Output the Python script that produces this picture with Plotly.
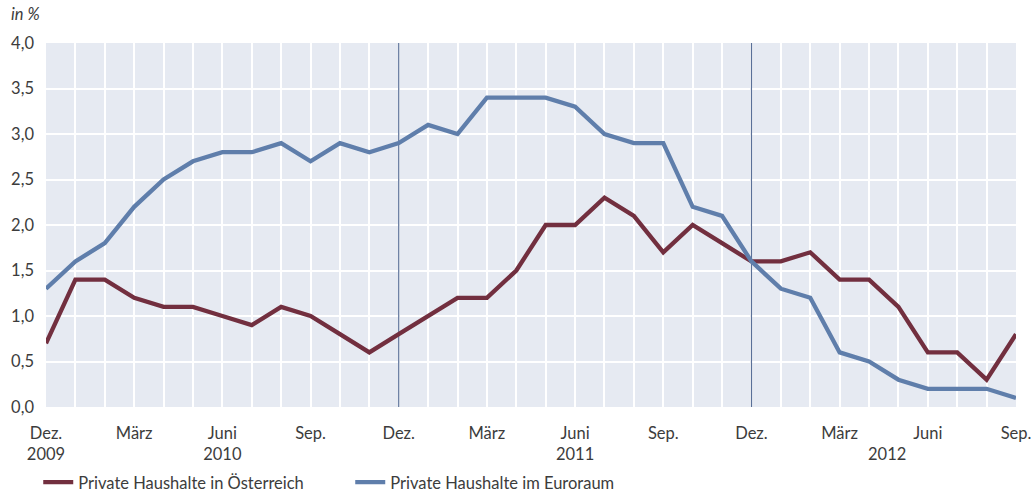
import plotly.graph_objects as go

months = ["Dez. 2009", "Jan. 2010", "Feb. 2010", "März 2010", "Apr. 2010", "Mai 2010", "Juni 2010",
          "Juli 2010", "Aug. 2010", "Sep. 2010", "Okt. 2010", "Nov. 2010", "Dez. 2010",
          "Jan. 2011", "Feb. 2011", "März 2011", "Apr. 2011", "Mai 2011", "Juni 2011",
          "Juli 2011", "Aug. 2011", "Sep. 2011", "Okt. 2011", "Nov. 2011", "Dez. 2011",
          "Jan. 2012", "Feb. 2012", "März 2012", "Apr. 2012", "Mai 2012", "Juni 2012",
          "Juli 2012", "Aug. 2012", "Sep. 2012"]

austria = [0.7, 1.4, 1.4, 1.2, 1.1, 1.1, 1.0, 0.9, 1.1, 1.0, 0.8, 0.6, 0.8,
           1.0, 1.2, 1.2, 1.5, 2.0, 2.0, 2.3, 2.1, 1.7, 2.0, 1.8, 1.6,
           1.6, 1.7, 1.4, 1.4, 1.1, 0.6, 0.6, 0.3, 0.8]

euro = [1.3, 1.6, 1.8, 2.2, 2.5, 2.7, 2.8, 2.8, 2.9, 2.7, 2.9, 2.8, 2.9,
        3.1, 3.0, 3.4, 3.4, 3.4, 3.3, 3.0, 2.9, 2.9, 2.2, 2.1, 1.6,
        1.3, 1.2, 0.6, 0.5, 0.3, 0.2, 0.2, 0.2, 0.1]

tick_idx = [0, 3, 6, 9, 12, 15, 18, 21, 24, 27, 30, 33]
tick_text = ["Dez.<br>2009", "März", "Juni<br>2010", "Sep.", "Dez.", "März", "Juni<br>2011",
             "Sep.", "Dez.", "März", "Juni", "Sep."]
year_2012_pos = 28.6
separator_idx = [12, 24]
y_range = [0, 4]

FONT = "Lato, 'Open Sans', sans-serif"
FS = 16.5
RED = "#722f3f"
BLUE = "#5f7eab"
TXT = "#3c3c3c"

x = list(range(len(months)))

sep_x, sep_y = [], []
for s in separator_idx:
    sep_x += [s, s, None]
    sep_y += [y_range[0], y_range[1], None]

fig = go.Figure()
fig.add_trace(go.Scatter(x=sep_x, y=sep_y, mode="lines", showlegend=False, hoverinfo="skip",
                         line=dict(color="#5a7098", width=1.2)))
fig.add_trace(go.Scatter(x=x, y=austria, mode="lines", name="Private Haushalte in Österreich",
                         line=dict(color=RED, width=4.3), text=months, hoverinfo="text+y"))
fig.add_trace(go.Scatter(x=x, y=euro, mode="lines", name="Private Haushalte im Euroraum",
                         line=dict(color=BLUE, width=4.3), text=months, hoverinfo="text+y"))

fig.add_annotation(x=year_2012_pos, y=0, yref="paper", yshift=-35, text="2012", showarrow=False,
                   font=dict(family=FONT, size=FS, color=TXT), yanchor="top")
fig.add_annotation(x=0, xref="paper", xshift=-37, y=1, yref="paper", yshift=17, text="<i>in %</i>",
                   showarrow=False, xanchor="left", yanchor="bottom",
                   font=dict(family=FONT, size=FS, color=TXT))

fig.update_layout(
    width=1031, height=495,
    margin=dict(l=46, r=15, t=43, b=88, autoexpand=False),
    paper_bgcolor="white", plot_bgcolor="#e6eaf2",
    separators=",.",
    font=dict(family=FONT, size=FS, color=TXT),
    showlegend=True,
    legend=dict(orientation="h", x=-0.008, xanchor="left", y=-0.207, yanchor="middle",
                font=dict(family=FONT, size=FS, color=TXT), itemwidth=30,
                entrywidth=267, entrywidthmode="pixels",
                bgcolor="rgba(0,0,0,0)", tracegroupgap=0),
    xaxis=dict(range=[0, 33], tickmode="array", tickvals=tick_idx, ticktext=tick_text,
               showgrid=True, gridcolor="white", gridwidth=2, zeroline=False,
               minor=dict(showgrid=True, gridcolor="white", gridwidth=2, tickvals=x),
               ticks="", showline=False, automargin=False, ticklabelstandoff=14,
               ticklabeloverflow="allow",
               tickfont=dict(family=FONT, size=FS, color=TXT)),
    yaxis=dict(range=y_range, dtick=0.5, tickformat=".1f", showgrid=True, gridcolor="white",
               gridwidth=2, zeroline=False, ticks="", showline=False, automargin=False,
               ticklabelstandoff=11,
               tickfont=dict(family=FONT, size=FS, color=TXT)),
)

fig.write_html("out.html", config={"displayModeBar": False},
               post_script="document.body.style.margin='0';document.body.style.overflow='hidden';")
